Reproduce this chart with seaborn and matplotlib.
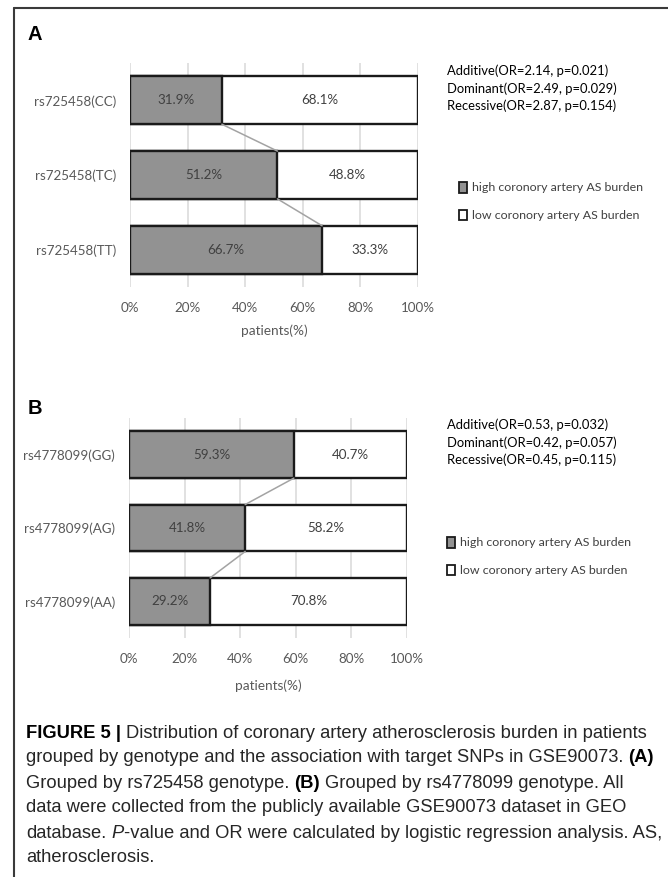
import matplotlib
matplotlib.use("Agg")
import matplotlib.pyplot as plt
import seaborn as sns
import numpy as np
import pandas as pd
from matplotlib.patches import Patch
from matplotlib.lines import Line2D

# ---- data -------------------------------------------------------------
genotypes_a = ["rs725458(CC)", "rs725458(TC)", "rs725458(TT)"]
high_a = [31.9, 51.2, 66.7]
low_a = [68.1, 48.8, 33.3]
stats_a = ["Additive(OR=2.14, p=0.021)",
           "Dominant(OR=2.49, p=0.029)",
           "Recessive(OR=2.87, p=0.154)"]

genotypes_b = ["rs4778099(GG)", "rs4778099(AG)", "rs4778099(AA)"]
high_b = [59.3, 41.8, 29.2]
low_b = [40.7, 58.2, 70.8]
stats_b = ["Additive(OR=0.53, p=0.032)",
           "Dominant(OR=0.42, p=0.057)",
           "Recessive(OR=0.45, p=0.115)"]

x_ticks = [0, 20, 40, 60, 80, 100]
legend_labels = ["high coronory artery AS burden", "low coronory artery AS burden"]
x_title = "patients(%)"

# ---- styling ----------------------------------------------------------
W, H = 668, 877
sns.set_theme(style="white")
plt.rcParams["font.family"] = ["Lato", "DejaVu Sans"]

GREY = "#929292"
EDGE = "#1a1a1a"
GRID = "#d9d9d9"
LINK = "#a3a3a3"
LABEL = "#595959"
VALUE = "#404040"
BAR_W = 0.64

fig = plt.figure(figsize=(W / 100, H / 100), dpi=100)


def fx(px):
    return px / W


def fy(py):
    return 1 - py / H


def draw_panel(letter, labels, high, low, stats, left, right, top, bottom,
               letter_y, stats_y, legend_x, legend_y, xlabel_pad):
    ax = fig.add_axes([fx(left), fy(bottom), (right - left) / W, (bottom - top) / H])
    df = pd.DataFrame({"genotype": labels,
                       "high": high,
                       "total": np.add(high, low)})
    # full-width bar (white = low burden share) then the high-burden share over it
    sns.barplot(data=df, x="total", y="genotype", orient="h", color="white",
                saturation=1, edgecolor=EDGE, linewidth=1.7, width=BAR_W, ax=ax)
    sns.barplot(data=df, x="high", y="genotype", orient="h", color=GREY,
                saturation=1, edgecolor=EDGE, linewidth=1.7, width=BAR_W, ax=ax)

    # series lines joining the boundary of consecutive bars
    for i in range(len(labels) - 1):
        ax.plot([high[i], high[i + 1]], [i + BAR_W / 2, i + 1 - BAR_W / 2],
                color=LINK, lw=1.1, zorder=1)

    for i, (h, l) in enumerate(zip(high, low)):
        ax.text(h / 2, i, f"{h:.1f}%", ha="center", va="center",
                fontsize=9.6, color=VALUE)
        ax.text(h + l / 2, i, f"{l:.1f}%", ha="center", va="center",
                fontsize=9.6, color=VALUE)

    ax.set_xlim(0, 100)
    ax.set_ylim(len(labels) - 0.5, -0.5)
    ax.set_xticks(x_ticks)
    ax.set_xticklabels([f"{t}%" for t in x_ticks])
    ax.grid(axis="x", color=GRID, lw=1.1)
    ax.grid(axis="y", visible=False)
    ax.set_axisbelow(True)
    for sp in ax.spines.values():
        sp.set_visible(False)
    ax.tick_params(axis="y", length=0, pad=10, labelsize=9.6, labelcolor=LABEL)
    ax.tick_params(axis="x", length=0, pad=11, labelsize=9.6, labelcolor=LABEL)
    ax.set_ylabel("")
    ax.set_xlabel(x_title, fontsize=9.8, color=LABEL, labelpad=xlabel_pad)

    fig.text(fx(28), fy(letter_y), letter, fontsize=14.5, weight="bold",
             family=["Liberation Sans", "DejaVu Sans"], ha="left", va="center",
             color="black")

    for k, s in enumerate(stats):
        fig.text(fx(447), fy(stats_y + k * 17.5), s, fontsize=9.4,
                 ha="left", va="center", color="black")

    handles = [Patch(facecolor=GREY, edgecolor=EDGE, linewidth=1.3),
               Patch(facecolor="white", edgecolor=EDGE, linewidth=1.3)]
    leg = ax.legend(handles, legend_labels, loc="center left",
                    bbox_to_anchor=(fx(legend_x), fy(legend_y)),
                    bbox_transform=fig.transFigure, frameon=False,
                    fontsize=8.9, handlelength=0.65, handleheight=0.95,
                    handletextpad=0.4, labelspacing=1.3, borderpad=0,
                    borderaxespad=0)
    for t in leg.get_texts():
        t.set_color(VALUE)
    return ax


draw_panel("A", genotypes_a, high_a, low_a, stats_a,
           130, 418, 63, 287, 34, 71, 459, 201.5, 7)
draw_panel("B", genotypes_b, high_b, low_b, stats_b,
           129, 407, 418, 638, 408, 425, 447, 556.5, 10)

# ---- frame ------------------------------------------------------------
fig.add_artist(Line2D([fx(14), 1], [fy(8), fy(8)], color="#3a3a3a", lw=1.5))
fig.add_artist(Line2D([fx(14), fx(14)], [fy(8), 0], color="#3a3a3a", lw=1.5))

# ---- caption ----------------------------------------------------------
CAP_FAMILY = ["Liberation Sans", "DejaVu Sans"]
caption_lines = [
    [("FIGURE 5 |", "bold"), ("Distribution of coronary artery atherosclerosis burden in patients", "normal")],
    [("grouped by genotype and the association with target SNPs in GSE90073.", "normal"), ("(A)", "bold")],
    [("Grouped by rs725458 genotype.", "normal"), ("(B)", "bold"), ("Grouped by rs4778099 genotype. All", "normal")],
    [("data were collected from the publicly available GSE90073 dataset in GEO", "normal")],
    [("database.", "normal"), ("P", "italic"), ("-value and OR were calculated by logistic regression analysis. AS,", "normal")],
    [("atherosclerosis.", "normal")],
]
renderer = fig.canvas.get_renderer()


def style_kw(style):
    if style == "bold":
        return {"weight": "bold"}
    if style == "italic":
        return {"style": "italic"}
    return {}


def text_width(s, size, style):
    t = fig.text(0, 0, s, fontsize=size, family=CAP_FAMILY, **style_kw(style))
    w = t.get_window_extent(renderer).width
    t.remove()
    return w


def space_width(size):
    return text_width("x x", size, "normal") - text_width("xx", size, "normal")


def line_width(runs, size):
    sp = space_width(size)
    total = 0
    for j, (s, st) in enumerate(runs):
        total += text_width(s, size, st)
        if j < len(runs) - 1 and not runs[j + 1][0].startswith("-"):
            total += sp
    return total


# size the caption so its widest line spans x = 26 .. 660
cap_size = 11.0
widest = max(line_width(r, cap_size) for r in caption_lines)
cap_size *= 634 / widest

space = space_width(cap_size)
for n, runs in enumerate(caption_lines):
    x = 26
    y = 733 + 25 * n
    for j, (s, st) in enumerate(runs):
        col = "black" if st == "bold" else "#262626"
        t = fig.text(fx(x), fy(y), s, fontsize=cap_size, family=CAP_FAMILY,
                     ha="left", va="center", color=col, **style_kw(st))
        x += t.get_window_extent(renderer).width
        if j < len(runs) - 1 and not runs[j + 1][0].startswith("-"):
            x += space

fig.savefig("out.png", dpi=100)
